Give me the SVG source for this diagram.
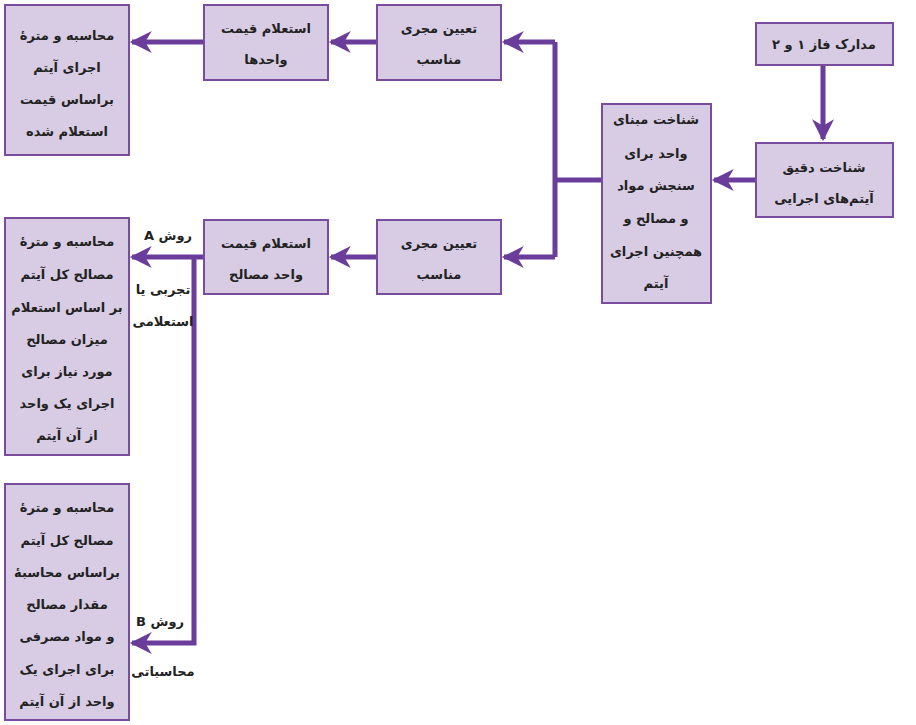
<svg xmlns="http://www.w3.org/2000/svg" width="916" height="725" viewBox="0 0 916 725">
<defs>
<style>
.b{fill:#D8CCE4;stroke:#7A4C9E;stroke-width:2}
.t{font-family:"DejaVu Sans",sans-serif;font-size:13px;font-weight:bold;fill:#222;text-anchor:middle;direction:rtl}
.l{fill:none;stroke:#6A3D9A;stroke-width:5}
</style>
<marker id="a" viewBox="0 0 10 10" refX="9" refY="5" markerWidth="5" markerHeight="4.4" orient="auto" markerUnits="strokeWidth"><path d="M0,0L10,5L0,10L3,5z" fill="#6A3D9A"/></marker>
</defs>
<rect width="916" height="725" fill="#fff"/>
<g id="connectors">
<path class="l" d="M823,65V139" marker-end="url(#a)"/>
<path class="l" d="M756,180H714" marker-end="url(#a)"/>
<path class="l" d="M602,180H555"/>
<path class="l" d="M555,42V257"/>
<path class="l" d="M555,42H504" marker-end="url(#a)"/>
<path class="l" d="M555,257H504" marker-end="url(#a)"/>
<path class="l" d="M377,42H331" marker-end="url(#a)"/>
<path class="l" d="M204,42H132" marker-end="url(#a)"/>
<path class="l" d="M377,257H331" marker-end="url(#a)"/>
<path class="l" d="M204,257H132" marker-end="url(#a)"/>
<path class="l" d="M194,257V643H132" marker-end="url(#a)"/>
</g>
<g id="n1"><rect class="b" x="756" y="23" width="137" height="42"/><text class="t" x="824" y="49">مدارک فاز ۱ و ۲</text></g>
<g id="n2"><rect class="b" x="756" y="143" width="137" height="74"/><text class="t" x="824" y="172">شناخت دقیق</text><text class="t" x="824" y="203">آیتم‌های اجرایی</text></g>
<g id="n3"><rect class="b" x="602" y="104" width="109" height="199"/>
<text class="t" x="656" y="124">شناخت مبنای</text><text class="t" x="656" y="158">واحد برای</text><text class="t" x="656" y="190">سنجش مواد</text><text class="t" x="656" y="223">و مصالح و</text><text class="t" x="656" y="256">همچنین اجرای</text><text class="t" x="656" y="288">آیتم</text></g>
<g id="n4"><rect class="b" x="377" y="5" width="124" height="75"/><text class="t" x="439" y="33">تعیین مجری</text><text class="t" x="439" y="64">مناسب</text></g>
<g id="n5"><rect class="b" x="377" y="220" width="124" height="74"/><text class="t" x="439" y="248">تعیین مجری</text><text class="t" x="439" y="279">مناسب</text></g>
<g id="n6"><rect class="b" x="204" y="5" width="124" height="75"/><text class="t" x="266" y="33">استعلام قیمت</text><text class="t" x="266" y="64">واحدها</text></g>
<g id="n7"><rect class="b" x="204" y="220" width="124" height="74"/><text class="t" x="266" y="248">استعلام قیمت</text><text class="t" x="266" y="279">واحد مصالح</text></g>
<g id="n8"><rect class="b" x="5" y="5" width="124" height="150"/>
<text class="t" x="67" y="40">محاسبه و مترهٔ</text><text class="t" x="67" y="72">اجرای آیتم</text><text class="t" x="67" y="104">براساس قیمت</text><text class="t" x="67" y="136">استعلام شده</text></g>
<g id="n9"><rect class="b" x="5" y="218" width="124" height="237"/>
<text class="t" x="67" y="246">محاسبه و مترهٔ</text><text class="t" x="67" y="279">مصالح کل آیتم</text><text class="t" x="67" y="312">بر اساس استعلام</text><text class="t" x="67" y="344">میزان مصالح</text><text class="t" x="67" y="376">مورد نیاز برای</text><text class="t" x="67" y="408">اجرای یک واحد</text><text class="t" x="67" y="440">از آن آیتم</text></g>
<g id="n10"><rect class="b" x="5" y="484" width="124" height="236"/>
<text class="t" x="67" y="512">محاسبه و مترهٔ</text><text class="t" x="67" y="545">مصالح کل آیتم</text><text class="t" x="67" y="577">براساس محاسبهٔ</text><text class="t" x="67" y="609">مقدار مصالح</text><text class="t" x="67" y="641">و مواد مصرفی</text><text class="t" x="67" y="674">برای اجرای یک</text><text class="t" x="67" y="706">واحد از آن آیتم</text></g>
<g id="labels">
<text class="t" x="168" y="240">روش A</text>
<text class="t" x="163" y="294">تجربی یا</text>
<text class="t" x="163" y="326">استعلامی</text>
<text class="t" x="160" y="626">روش B</text>
<text class="t" x="163" y="676">محاسباتی</text>
</g>
</svg>
